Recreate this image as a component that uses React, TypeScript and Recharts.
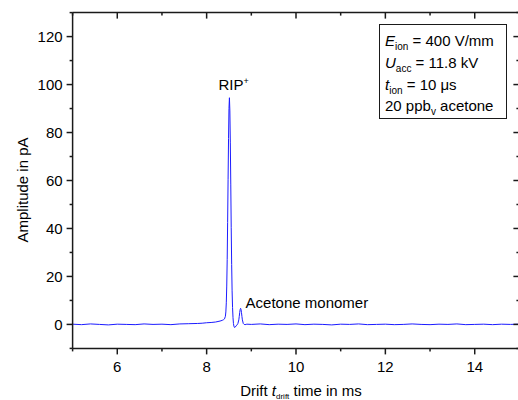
import { LineChart, Line, XAxis, YAxis, ReferenceDot } from "recharts";

// drift time (ms) and amplitude (pA)
const driftTime = [
  5.0, 5.2, 5.4, 5.6, 5.8, 6.0, 6.2, 6.4, 6.6, 6.8, 7.0, 7.2, 7.4, 7.6, 7.8, 7.9,
  8.0, 8.1, 8.2, 8.3, 8.35, 8.38, 8.4, 8.42, 8.43, 8.44, 8.45, 8.46, 8.47, 8.48, 8.49,
  8.5, 8.51, 8.52, 8.53, 8.54, 8.55, 8.56, 8.57, 8.58, 8.59, 8.6, 8.61, 8.62, 8.63, 8.64,
  8.66, 8.68, 8.7, 8.72, 8.73, 8.74, 8.75, 8.76, 8.77, 8.78, 8.79, 8.8, 8.82, 8.84, 8.86,
  8.9, 9.0, 9.2, 9.4, 9.6, 9.8, 10.0, 10.2, 10.4, 10.6, 10.8, 11.0, 11.2, 11.4, 11.6,
  11.8, 12.0, 12.2, 12.4, 12.6, 12.8, 13.0, 13.2, 13.4, 13.6, 13.8, 14.0, 14.2, 14.4,
  14.6, 14.8, 15.0,
];
const amplitude = [
  0.1, -0.1, 0.2, 0.0, -0.2, 0.1, 0.0, -0.1, 0.2, 0.0, 0.1, -0.1, 0.2, 0.3, 0.4, 0.5,
  0.7, 0.8, 1.0, 1.4, 1.7, 2.0, 2.3, 3.4, 5.2, 9.0, 16.0, 27.0, 42.5, 60.5, 77.5,
  90.0, 94.5, 89.0, 76.0, 58.5, 40.5, 25.0, 14.0, 7.0, 2.8, 0.4, -0.7, -1.2, -1.3, -1.1,
  -0.6, -0.2, 0.4, 1.9, 3.3, 4.9, 6.2, 6.7, 6.2, 4.9, 3.3, 1.9, 0.4, 0.0, -0.1,
  0.1, 0.0, 0.2, -0.1, 0.1, 0.0, 0.2, -0.1, 0.1, 0.0, -0.2, 0.1, 0.0, 0.2, -0.1,
  0.0, 0.1, -0.1, 0.0, 0.2, 0.0, -0.1, 0.1, 0.0, 0.2, -0.1, 0.0, 0.1, -0.1,
  0.1, 0.0, 0.1,
];

const xTicks = [5, 6, 7, 8, 9, 10, 11, 12, 13, 14, 15];
const xLabels = [6, 8, 10, 12, 14];
const yTicks = [-10, 0, 10, 20, 30, 40, 50, 60, 70, 80, 90, 100, 110, 120, 130];
const yLabels = [0, 20, 40, 60, 80, 100, 120];

const ripPeak = { t: 8.51, a: 94.5 };
const acetonePeak = { t: 8.76, a: 6.7 };

const data = driftTime.map((t, i) => ({ t, amp: amplitude[i] }));

const FONT = '"Liberation Sans", Arial, sans-serif';
const INK = "#1a1a1a";
const axisLine = { stroke: INK, strokeWidth: 1.5 };

function BottomTick({ x, y, payload }: any) {
  const major = xLabels.includes(payload.value);
  return (
    <g>
      <line x1={x} x2={x} y1={y} y2={y + (major ? 6 : 3)} stroke={INK} strokeWidth={1.5} />
      {major && (
        <text x={x} y={y + 23.5} textAnchor="middle" fontSize={15} fontFamily={FONT} fill="#000">
          {payload.value}
        </text>
      )}
    </g>
  );
}

function TopTick({ x, y, payload }: any) {
  const major = xLabels.includes(payload.value);
  return <line x1={x} x2={x} y1={y} y2={y + (major ? 6 : 3)} stroke={INK} strokeWidth={1.5} />;
}

function LeftTick({ x, y, payload }: any) {
  const major = yLabels.includes(payload.value);
  return (
    <g>
      <line x1={x} x2={x - (major ? 6 : 3)} y1={y} y2={y} stroke={INK} strokeWidth={1.5} />
      {major && (
        <text x={x - 10} y={y} dy="0.36em" textAnchor="end" fontSize={15} fontFamily={FONT} fill="#000">
          {payload.value}
        </text>
      )}
    </g>
  );
}

function RightTick({ x, y, payload }: any) {
  const major = yLabels.includes(payload.value);
  return <line x1={x} x2={x - (major ? 6 : 3)} y1={y} y2={y} stroke={INK} strokeWidth={1.5} />;
}

const ripLabel = (p: any) => (
  <text x={p.cx - 11} y={p.cy - 7.5} fontSize={15} fontFamily={FONT} fill="#000">
    RIP
    <tspan dy={-6} fontSize={9}>+</tspan>
  </text>
);

const acetoneLabel = (p: any) => (
  <text x={p.cx + 5} y={p.cy} fontSize={15} fontFamily={FONT} fill="#000">
    Acetone monomer
  </text>
);

const yTitle = () => (
  <text
    x={28}
    y={190}
    transform="rotate(-90, 28, 190)"
    textAnchor="middle"
    fontSize={15}
    fontFamily={FONT}
    fill="#000"
  >
    Amplitude in pA
  </text>
);

const xTitle = () => (
  <text x={301} y={396} textAnchor="middle" fontSize={15} fontFamily={FONT} fill="#000">
    Drift <tspan fontStyle="italic">t</tspan>
    <tspan dy={2.5} fontSize={8}>drift</tspan>
    <tspan dy={-2.5}> time in ms</tspan>
  </text>
);

function ConditionsBox() {
  const x0 = 385;
  const lines = [46, 68, 89.5, 110.5];
  const txt = { fontSize: 15, fontFamily: FONT, fill: "#000" };
  return (
    <svg
      width={518}
      height={400}
      style={{ position: "absolute", left: 0, top: 0, pointerEvents: "none" }}
    >
      <rect x={379.5} y={24.5} width={127} height={94} fill="#fff" stroke={INK} strokeWidth={1} />
      <text x={x0} y={lines[0]} {...txt}>
        <tspan fontStyle="italic">E</tspan>
        <tspan dy={4} fontSize={10}>ion</tspan>
        <tspan dy={-4}> = 400 V/mm</tspan>
      </text>
      <text x={x0} y={lines[1]} {...txt}>
        <tspan fontStyle="italic">U</tspan>
        <tspan dy={4} fontSize={10}>acc</tspan>
        <tspan dy={-4}> = 11.8 kV</tspan>
      </text>
      <text x={x0} y={lines[2]} {...txt}>
        <tspan fontStyle="italic">t</tspan>
        <tspan dy={4} fontSize={10}>ion</tspan>
        <tspan dy={-4}> = 10 μs</tspan>
      </text>
      <text x={x0} y={lines[3]} {...txt}>
        20 ppb
        <tspan dy={4} fontSize={10}>v</tspan>
        <tspan dy={-4}> acetone</tspan>
      </text>
    </svg>
  );
}

export default function App() {
  return (
    <div
      style={{
        position: "absolute",
        left: 0,
        top: 0,
        width: 518,
        height: 400,
        overflow: "hidden",
        background: "#fff",
      }}
    >
      <LineChart
        width={530}
        height={400}
        data={data}
        margin={{ top: 11.6, right: 8.6, bottom: 1.6, left: 0.6 }}
      >
        <XAxis
          dataKey="t"
          type="number"
          domain={[5, 15]}
          allowDataOverflow
          ticks={xTicks}
          interval={0}
          height={50}
          tickSize={0}
          tickMargin={0}
          tickLine={false}
          axisLine={axisLine}
          tick={<BottomTick />}
          label={{ content: xTitle }}
        />
        <XAxis
          xAxisId="top"
          dataKey="t"
          orientation="top"
          type="number"
          domain={[5, 15]}
          allowDataOverflow
          ticks={xTicks}
          interval={0}
          height={1}
          tickSize={0}
          tickMargin={0}
          tickLine={false}
          axisLine={axisLine}
          tick={<TopTick />}
        />
        <YAxis
          type="number"
          domain={[-10, 130]}
          allowDataOverflow
          ticks={yTicks}
          interval={0}
          width={72}
          tickSize={0}
          tickMargin={0}
          tickLine={false}
          axisLine={axisLine}
          tick={<LeftTick />}
          label={{ content: yTitle }}
        />
        <YAxis
          yAxisId="right"
          dataKey="amp"
          orientation="right"
          type="number"
          domain={[-10, 130]}
          allowDataOverflow
          ticks={yTicks}
          interval={0}
          width={2}
          tickSize={0}
          tickMargin={0}
          tickLine={false}
          axisLine={axisLine}
          tick={<RightTick />}
        />
        <Line
          dataKey="amp"
          type="linear"
          stroke="#1c1cff"
          strokeWidth={1}
          dot={false}
          isAnimationActive={false}
        />
        <ReferenceDot x={ripPeak.t} y={ripPeak.a} r={0} shape={ripLabel} />
        <ReferenceDot x={acetonePeak.t} y={acetonePeak.a} r={0} shape={acetoneLabel} />
      </LineChart>
      <ConditionsBox />
    </div>
  );
}
